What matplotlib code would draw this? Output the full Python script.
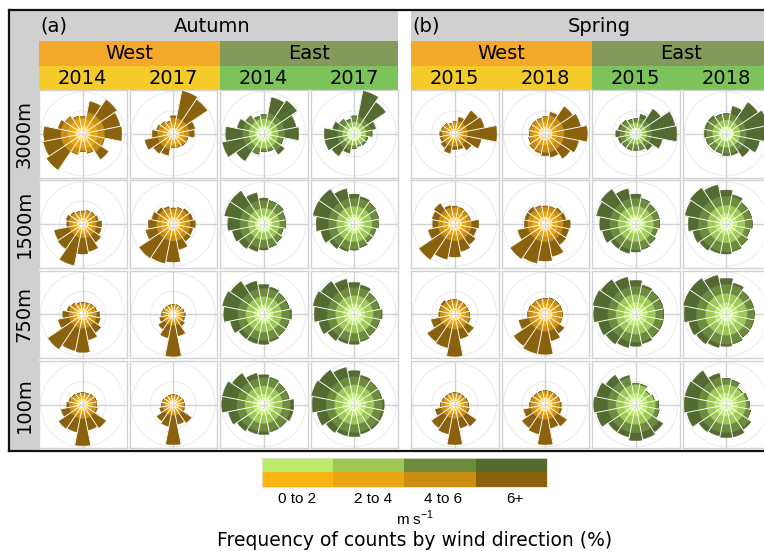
import numpy as np
import matplotlib
matplotlib.use("Agg")
import matplotlib.pyplot as plt
from matplotlib.patches import Rectangle, Circle
from matplotlib.lines import Line2D

# ---------------- data ----------------
directions = ["N", "NNE", "NE", "ENE", "E", "ESE", "SE", "SSE",
              "S", "SSW", "SW", "WSW", "W", "WNW", "NW", "NNW"]
speed_bins = ["0 to 2", "2 to 4", "4 to 6", "6+"]
heights = ["3000m", "1500m", "750m", "100m"]
regions = ["West", "East"]
autumn_years = ["2014", "2017"]
spring_years = ["2015", "2018"]

west_colors = ["#FDB515", "#EBA713", "#C98E11", "#8A620D"]
east_colors = ["#BDEA6B", "#9DC856", "#6D8B3D", "#536A30"]
glow_colors = ["#FFE07A", "#E4FBB0"]

# radial extent of each direction (display scale, cell half-width = 44)
# order per row: West year1, West year2, East year1, East year2
autumn_3000m = [
    [17, 33, 41, 38, 39, 22, 31, 20, 18, 21, 44, 40, 39, 25, 21, 18],
    [18, 44, 41, 22, 21, 15, 15, 14, 14, 22, 24, 29, 21, 17, 15, 13],
    [19, 37, 40, 33, 35, 20, 25, 18, 18, 21, 33, 42, 38, 27, 22, 18],
    [18, 44, 38, 22, 18, 14, 14, 13, 15, 20, 27, 30, 30, 22, 18, 15],
]
autumn_1500m = [
    [13, 14, 15, 16, 19, 19, 22, 28, 30, 42, 30, 29, 16, 17, 15, 13],
    [16, 17, 19, 20, 22, 20, 21, 26, 38, 40, 41, 28, 25, 22, 20, 18],
    [26, 24, 24, 22, 22, 20, 22, 24, 26, 28, 30, 32, 36, 40, 40, 32],
    [30, 28, 26, 25, 24, 22, 22, 24, 26, 28, 30, 34, 38, 42, 42, 36],
]
autumn_750m = [
    [12, 12, 13, 14, 17, 18, 22, 26, 38, 37, 42, 25, 20, 16, 14, 12],
    [10, 10, 10, 11, 12, 12, 14, 22, 42, 24, 18, 14, 12, 11, 10, 10],
    [30, 28, 26, 26, 28, 26, 26, 28, 30, 30, 30, 34, 40, 42, 40, 34],
    [32, 30, 26, 26, 28, 26, 26, 28, 30, 30, 32, 36, 40, 42, 40, 36],
]
autumn_100m = [
    [12, 12, 13, 14, 14, 15, 28, 26, 41, 28, 29, 22, 16, 14, 13, 12],
    [10, 10, 10, 11, 11, 12, 22, 20, 40, 22, 20, 14, 12, 11, 10, 10],
    [30, 28, 26, 26, 30, 30, 28, 28, 30, 30, 32, 36, 42, 42, 38, 32],
    [34, 30, 28, 28, 30, 30, 30, 30, 32, 32, 34, 38, 42, 44, 42, 38],
]
spring_3000m = [
    [12, 17, 28, 30, 42, 27, 20, 16, 16, 20, 17, 15, 15, 14, 13, 11],
    [17, 22, 33, 36, 42, 34, 30, 24, 22, 20, 19, 17, 16, 16, 16, 16],
    [15, 20, 30, 40, 41, 27, 20, 17, 17, 17, 17, 18, 20, 18, 17, 15],
    [20, 28, 38, 42, 42, 34, 28, 22, 22, 20, 20, 21, 22, 22, 22, 20],
]
spring_1500m = [
    [18, 17, 16, 16, 24, 22, 25, 28, 33, 36, 43, 27, 22, 23, 25, 19],
    [18, 18, 20, 21, 25, 24, 25, 33, 37, 40, 42, 28, 21, 21, 21, 19],
    [30, 26, 24, 24, 24, 22, 24, 26, 28, 30, 30, 34, 36, 40, 42, 36],
    [34, 30, 26, 26, 26, 24, 26, 28, 30, 30, 32, 34, 38, 42, 44, 40],
]
spring_750m = [
    [15, 14, 14, 14, 15, 16, 23, 25, 42, 34, 33, 24, 16, 16, 17, 15],
    [16, 17, 17, 17, 17, 17, 23, 27, 40, 40, 38, 27, 18, 17, 16, 16],
    [34, 30, 28, 28, 28, 28, 28, 30, 32, 34, 36, 38, 42, 44, 42, 38],
    [36, 32, 28, 28, 28, 28, 28, 30, 32, 34, 36, 38, 42, 44, 44, 40],
]
spring_100m = [
    [12, 12, 12, 13, 14, 15, 26, 24, 40, 30, 28, 20, 14, 13, 12, 12],
    [14, 14, 14, 15, 16, 17, 26, 24, 40, 30, 28, 22, 16, 15, 14, 14],
    [21, 21, 17, 19, 23, 24, 33, 35, 36, 33, 33, 40, 42, 40, 36, 30],
    [26, 25, 20, 22, 23, 25, 30, 33, 33, 32, 33, 40, 42, 42, 41, 32],
]

# cumulative outer limits of the 0-2, 2-4 and 4-6 bins per rose
autumn_3000m_rings = [[9, 15, 22], [6, 11, 16], [9, 15, 21], [7, 12, 17]]
autumn_1500m_rings = [[6, 10, 14], [7, 12, 17], [9, 16, 24], [10, 18, 26]]
autumn_750m_rings = [[6, 10, 14], [5, 8, 11], [10, 18, 26], [11, 19, 27]]
autumn_100m_rings = [[6, 10, 14], [5, 8, 11], [11, 19, 27], [12, 20, 28]]
spring_3000m_rings = [[5, 9, 13], [7, 12, 19], [6, 11, 16], [8, 14, 20]]
spring_1500m_rings = [[7, 12, 17], [8, 13, 18], [10, 18, 26], [11, 19, 28]]
spring_750m_rings = [[6, 11, 15], [7, 12, 17], [12, 20, 28], [12, 21, 30]]
spring_100m_rings = [[6, 10, 14], [7, 11, 15], [12, 20, 28], [12, 20, 28]]

autumn_rows = [autumn_3000m, autumn_1500m, autumn_750m, autumn_100m]
spring_rows = [spring_3000m, spring_1500m, spring_750m, spring_100m]
autumn_ring_rows = [autumn_3000m_rings, autumn_1500m_rings, autumn_750m_rings, autumn_100m_rings]
spring_ring_rows = [spring_3000m_rings, spring_1500m_rings, spring_750m_rings, spring_100m_rings]

# ---------------- layout ----------------
W, H = 764, 551
fig = plt.figure(figsize=(W / 100, H / 100), dpi=100)
fig.patch.set_facecolor("white")


def fx(x):
    return x / W


def fy(y):
    return 1 - y / H


def add_rect(x0, y0, w, h, color, z=0):
    fig.add_artist(Rectangle((fx(x0), fy(y0 + h)), w / W, h / H,
                             transform=fig.transFigure, facecolor=color,
                             edgecolor="none", zorder=z))


def axes_at(x0, y0, w, h, **kw):
    return fig.add_axes([fx(x0), fy(y0 + h), w / W, h / H], **kw)


FONT = "DejaVu Sans"
STRIP_FS = 14
GRAY = "#D0D0D0"
WEST_STRIP = "#F4A92B"
WEST_YEAR = "#F5CB2A"
EAST_STRIP = "#849A5A"
EAST_YEAR = "#7DC35B"

CELL_W = 87.5
PITCH_X = 90.5
PITCH_Y = 90.3
ROW_Y0 = 90
HOLE = 4.0
RMAX = CELL_W / 2

theta = np.deg2rad(np.arange(len(directions)) * 22.5)
sector = np.deg2rad(22.5)


def draw_rose(x0, y0, totals, rings, colors, glow):
    bg = axes_at(x0, y0, CELL_W, CELL_W)
    bg.set_xlim(-RMAX, RMAX)
    bg.set_ylim(-RMAX, RMAX)
    bg.set_xticks([])
    bg.set_yticks([])
    for s in bg.spines.values():
        s.set_color("#D2D2D2")
        s.set_linewidth(1.0)
    for rr in (23, 42):
        bg.add_patch(Circle((0, 0), rr, facecolor="none", edgecolor="#EDEDED", lw=0.8))
    bg.axhline(0, color="#D3D3D3", lw=1.0)
    bg.axvline(0, color="#D3D3D3", lw=1.0)

    pax = axes_at(x0, y0, CELL_W, CELL_W, projection="polar")
    pax.set_theta_zero_location("N")
    pax.set_theta_direction(-1)
    pax.set_ylim(0, RMAX)
    pax.axis("off")
    pax.patch.set_alpha(0)
    tot = np.array(totals, dtype=float)
    edges = [np.full_like(tot, HOLE)]
    for r in rings:
        edges.append(np.minimum(r, tot))
    edges.append(tot)
    for k in range(4):
        pax.bar(theta, edges[k + 1] - edges[k], width=sector, bottom=edges[k],
                color=colors[k], edgecolor=colors[k], linewidth=0.3, align="center")
    # soft bright core around the hole
    g = np.minimum(edges[1], HOLE + 3.0)
    pax.bar(theta, g - HOLE, width=sector, bottom=HOLE, color=glow,
            alpha=0.75, linewidth=0, align="center")
    # white separators between directions
    for i in range(len(theta)):
        a = theta[i] + sector / 2
        r_end = max(tot[i], tot[(i + 1) % len(tot)])
        pax.plot([a, a], [HOLE, r_end + 0.5], color="white", lw=0.65,
                 solid_capstyle="butt")


def draw_panel(x_left, label, season, years, rows, ring_rows, with_heights):
    panel_right = x_left + 3 * PITCH_X + CELL_W
    gx0 = 10 if with_heights else x_left
    add_rect(gx0, 11, panel_right - gx0, 30, GRAY)
    fig.text(fx(x_left + 1), fy(26), label, ha="left", va="center",
             fontsize=STRIP_FS, family=FONT)
    sx = 212 if with_heights else 599
    fig.text(fx(sx), fy(26), season, ha="center", va="center",
             fontsize=STRIP_FS, family=FONT)
    half = 2 * PITCH_X
    for j, (reg, c1, c2) in enumerate([("West", WEST_STRIP, WEST_YEAR),
                                       ("East", EAST_STRIP, EAST_YEAR)]):
        rx0 = x_left + j * half
        rw = half if j == 0 else panel_right - rx0
        add_rect(rx0, 41, rw, 25, c1)
        add_rect(rx0, 66, rw, 24, c2)
        fig.text(fx(rx0 + rw / 2), fy(53.5), reg, ha="center", va="center",
                 fontsize=STRIP_FS, family=FONT)
        for k, yr in enumerate(years):
            cx = x_left + (2 * j + k) * PITCH_X + CELL_W / 2
            fig.text(fx(cx), fy(78.5), yr, ha="center", va="center",
                     fontsize=STRIP_FS, family=FONT)
    if with_heights:
        add_rect(10, 41, x_left - 10, 450 - 41, GRAY)
        for r, hname in enumerate(heights):
            cy = ROW_Y0 + r * PITCH_Y + CELL_W / 2
            fig.text(fx(24), fy(cy), hname, ha="center", va="center",
                     rotation=90, fontsize=STRIP_FS, family=FONT)
    for r in range(4):
        for c in range(4):
            cols = west_colors if c < 2 else east_colors
            glow = glow_colors[0] if c < 2 else glow_colors[1]
            draw_rose(x_left + c * PITCH_X, ROW_Y0 + r * PITCH_Y,
                      rows[r][c], ring_rows[r][c], cols, glow)


draw_panel(39, "(a)", "Autumn", autumn_years, autumn_rows, autumn_ring_rows, True)
draw_panel(411, "(b)", "Spring", spring_years, spring_rows, spring_ring_rows, False)

# outer frame
for (xa, ya, xb, yb) in [(9, 10, 764, 10), (9, 451, 764, 451), (9, 10, 9, 451)]:
    fig.add_artist(Line2D([fx(xa), fx(xb)], [fy(ya), fy(yb)], color="#111111",
                          lw=1.6, transform=fig.transFigure))

# ---------------- legend ----------------
lax = axes_at(262, 458, 285, 29)
img = np.array([[matplotlib.colors.to_rgb(c) for c in east_colors],
                [matplotlib.colors.to_rgb(c) for c in west_colors]])
lax.imshow(img, aspect="auto", extent=(0, 4, 2, 0), interpolation="nearest")
lax.set_xticks([])
lax.set_yticks([])
for s in lax.spines.values():
    s.set_color("#E6DFC8")
    s.set_linewidth(0.6)

label_x = [297, 373, 443, 515]
for lx, lab in zip(label_x, speed_bins):
    fig.text(fx(lx), fy(499), lab, ha="center", va="center",
             fontsize=11, family="Liberation Sans")
fig.text(fx(415), fy(518), r"m s$^{\mathregular{-1}}$", ha="center", va="center",
         fontsize=11, family="Liberation Sans")
fig.text(fx(415), fy(540), "Frequency of counts by wind direction (%)",
         ha="center", va="center", fontsize=13.5, family=FONT)

fig.savefig("out.png", dpi=100)
